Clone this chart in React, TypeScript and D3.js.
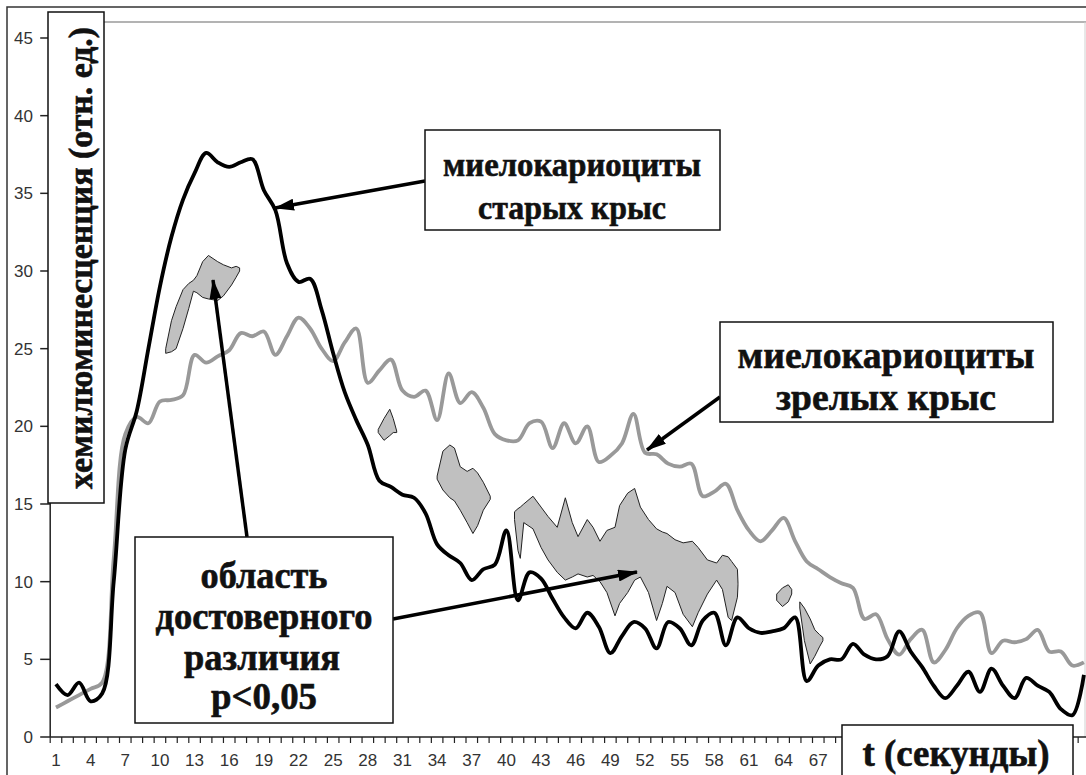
import React from 'react';
import * as d3 from 'd3';

// Хемилюминесценция миелокариоцитов: старые vs зрелые крысы
const oldRats = [
  3.4, 2.7, 3.5, 2.3, 2.8, 10.0, 18.5, 21.0, 25.0, 29.0,
  32.2, 34.6, 36.3, 37.6, 37.0, 36.7, 37.0, 37.2, 35.2, 33.9,
  30.5, 29.3, 29.5, 27.5, 24.7, 22.2, 20.4, 18.8, 16.5, 16.1,
  15.6, 15.4, 14.4, 12.4, 11.7, 11.2, 10.1, 10.8, 11.1, 13.3,
  8.8, 10.6, 10.2, 8.9, 7.7, 7.0, 8.0, 7.1, 5.4, 6.5,
  7.4, 7.0, 5.7, 7.4, 7.0, 5.9, 7.5, 8.0, 5.9, 7.7,
  7.0, 6.7, 6.8, 7.0, 7.7, 3.6, 4.6, 5.0, 5.0, 6.0,
  5.3, 5.0, 5.2, 6.8, 5.5, 4.5, 3.3, 2.5, 3.3, 4.2,
  2.9, 4.4, 3.3, 2.5, 3.8, 3.3, 2.9, 1.8, 1.4, 4.0,
];

const matureRats = [
  1.9, 2.3, 2.7, 3.1, 3.5, 11.5, 19.5, 20.6, 20.2, 21.6,
  21.7, 22.0, 24.6, 24.1, 24.5, 24.9, 26.0, 25.8, 26.1, 24.6,
  25.8, 27.0, 26.3, 25.0, 24.2, 25.4, 26.3, 22.8, 23.6, 24.3,
  22.3, 21.9, 22.3, 20.4, 23.4, 21.5, 22.2, 21.2, 19.5, 19.1,
  19.1, 20.2, 20.3, 18.6, 20.2, 18.9, 20.0, 17.7, 18.1, 18.9,
  20.8, 18.3, 18.2, 17.6, 17.4, 17.6, 15.5, 15.8, 16.3, 14.6,
  13.3, 12.6, 13.3, 14.1, 12.6, 11.3, 10.8, 10.3, 9.9, 9.6,
  7.6, 7.9, 6.3, 5.3, 6.3, 6.9, 4.8, 5.6, 7.0, 7.8,
  8.0, 5.4, 6.2, 6.1, 6.3, 6.9, 5.5, 5.5, 4.6, 4.8,
];

// Области достоверного различия: [t, верхняя граница, нижняя граница]
const zone1: [number, number, number][] = [
  [10.5, 25.0, 24.7], [11.0, 26.8, 24.8], [11.4, 27.7, 25.0], [12.0, 28.8, 26.3],
  [12.5, 29.2, 27.6], [12.9, 29.4, 28.7], [13.2, 29.7, 28.6], [13.7, 30.6, 28.3],
  [14.2, 31.0, 28.2], [15.0, 30.6, 28.1], [15.5, 30.4, 28.4], [16.2, 30.2, 29.1],
  [16.6, 30.3, 29.6], [16.9, 30.2, 30.0],
];
const zone2: [number, number, number][] = [
  [28.9, 19.8, 19.6], [29.4, 20.5, 19.1], [29.9, 21.1, 19.4], [30.2, 20.5, 19.6], [30.5, 19.7, 19.6],
];
const zone3: [number, number, number][] = [
  [34.0, 16.8, 16.6], [34.5, 18.4, 15.9], [35.1, 18.8, 15.4], [35.5, 18.6, 15.2],
  [36.0, 17.4, 14.6], [36.6, 17.1, 13.8], [37.1, 17.3, 13.1], [37.5, 17.0, 13.6],
  [38.0, 16.4, 14.6], [38.6, 15.5, 15.3],
];
const zone4: [number, number, number][] = [
  [40.7, 14.5, 14.0], [41.0, 14.7, 12.0], [41.2, 14.8, 11.5], [41.5, 15.0, 13.8],
  [42.3, 15.5, 13.4], [43.0, 14.8, 12.2], [43.6, 14.2, 11.4], [44.4, 13.5, 10.6],
  [45.1, 15.4, 10.1], [45.7, 13.8, 10.3], [46.2, 12.9, 10.5], [47.0, 14.0, 10.3],
  [47.5, 13.5, 10.4], [48.1, 12.6, 10.0], [48.7, 13.3, 9.3], [49.4, 13.5, 7.8],
  [49.8, 14.9, 8.6], [50.5, 15.7, 9.3], [51.1, 16.0, 10.1], [51.6, 14.8, 10.3],
  [52.3, 14.0, 9.3], [53.0, 13.4, 7.5], [53.5, 13.2, 8.6], [53.9, 13.1, 9.7],
  [54.6, 12.7, 9.3], [55.3, 12.5, 7.9], [56.1, 12.6, 7.1], [56.6, 12.2, 8.0],
  [57.4, 11.4, 9.2], [58.2, 11.2, 10.1], [58.7, 11.7, 9.5], [59.2, 11.6, 7.7],
  [59.5, 11.3, 7.5], [60.0, 10.8, 9.0], [60.05, 9.9, 9.8],
];
const zone5: [number, number, number][] = [
  [63.4, 9.2, 8.8], [63.9, 9.6, 8.4], [64.4, 9.8, 8.7], [64.7, 9.5, 9.2],
];
const zone6: [number, number, number][] = [
  [65.4, 8.7, 8.3], [65.8, 8.3, 6.2], [66.3, 7.6, 4.7], [66.7, 6.9, 5.2],
  [67.1, 6.6, 5.8], [67.4, 6.4, 6.2],
];
const zones = [zone1, zone2, zone3, zone4, zone5, zone6];

const yTicks = [0, 5, 10, 15, 20, 25, 30, 35, 40, 45];
const xTickLabels = [1, 4, 7, 10, 13, 16, 19, 22, 25, 28, 31, 34, 37, 40, 43, 46, 49, 52, 55, 58, 61, 64, 67];

const yAxisTitle = 'хемилюминесценция (отн. ед.)';
const xAxisTitle = 't (секунды)';
const oldLabel = ['миелокариоциты', 'старых крыс'];
const matureLabel = ['миелокариоциты', 'зрелых крыс'];
const zoneLabel = ['область', 'достоверного', 'различия', 'p<0,05'];

const W = 1086;
const H = 775;
const plot = { left: 50.2, top: 22, bottom: 737, step: 11.55 };

export default function App() {
  const n = oldRats.length;
  const x = d3.scaleLinear().domain([0.5, n + 0.5]).range([plot.left, plot.left + n * plot.step]);
  const y = d3.scaleLinear().domain([0, 45]).range([plot.bottom, 38]);

  const line = d3
    .line<number>()
    .x((_, i) => x(i + 1))
    .y((d) => y(d))
    .curve(d3.curveCatmullRom.alpha(0.5));

  const area = d3
    .area<[number, number, number]>()
    .x((d) => x(d[0]))
    .y0((d) => y(d[2]))
    .y1((d) => y(d[1]));

  const boundaries = d3.range(0, n + 1).map((k) => k + 0.5);

  const serif = '"Liberation Serif", "Times New Roman", serif';
  const sans = '"Liberation Sans", Arial, sans-serif';

  const textProps = {
    fontFamily: serif,
    fontWeight: 700 as const,
    fill: '#111',
    stroke: '#111',
    strokeWidth: 0.6,
    textAnchor: 'middle' as const,
    lengthAdjust: 'spacingAndGlyphs' as const,
  };

  return (
    <svg
      width={W}
      height={H}
      style={{ position: 'absolute', left: 0, top: 0, background: '#fff' }}
    >
      <defs>
        <marker
          id="head"
          viewBox="0 0 20 12"
          refX="19"
          refY="6"
          markerWidth="20"
          markerHeight="12"
          markerUnits="userSpaceOnUse"
          orient="auto"
        >
          <path d="M0,0 L20,6 L0,12 Z" fill="#000" />
        </marker>
      </defs>

      {/* outer frame */}
      <path d="M7,775 V7 H1086" fill="none" stroke="#333" strokeWidth={1.5} />
      {/* plot area border */}
      <line x1={plot.left} x2={W} y1={plot.top} y2={plot.top} stroke="#9a9a9a" strokeWidth={1.5} />
      <line x1={1085} x2={1085} y1={plot.top} y2={plot.bottom} stroke="#d0d0d0" strokeWidth={1} />

      {/* y axis */}
      <line x1={plot.left} x2={plot.left} y1={plot.top} y2={plot.bottom} stroke="#222" strokeWidth={1.5} />
      {yTicks.map((v) => (
        <g key={`y${v}`}>
          <line x1={plot.left - 10} x2={plot.left} y1={y(v)} y2={y(v)} stroke="#222" strokeWidth={1.5} />
          <text x={33} y={y(v)} dy="0.35em" textAnchor="end" fontFamily={sans} fontSize={17} fill="#333">
            {v}
          </text>
        </g>
      ))}

      {/* x axis */}
      <line x1={plot.left} x2={W} y1={plot.bottom} y2={plot.bottom} stroke="#222" strokeWidth={1.5} />
      {boundaries.map((b) => (
        <line key={`xt${b}`} x1={x(b)} x2={x(b)} y1={plot.bottom} y2={plot.bottom + 6} stroke="#222" strokeWidth={1.2} />
      ))}
      {xTickLabels.map((v) => (
        <text key={`xl${v}`} x={x(v)} y={766} textAnchor="middle" fontFamily={sans} fontSize={17} fill="#333">
          {v}
        </text>
      ))}

      {/* significance zones */}
      {zones.map((z, i) => (
        <path key={`z${i}`} d={area(z) ?? ''} fill="#c0c0c0" stroke="#222" strokeWidth={1} />
      ))}

      {/* series */}
      <path d={line(matureRats) ?? ''} fill="none" stroke="#999" strokeWidth={3.8} strokeLinejoin="round" />
      <path d={line(oldRats) ?? ''} fill="none" stroke="#000" strokeWidth={3.8} strokeLinejoin="round" />

      {/* arrows */}
      <line x1={425} y1={181} x2={275} y2={208} stroke="#000" strokeWidth={3.5} markerEnd="url(#head)" />
      <line x1={720} y1={397} x2={647} y2={450} stroke="#000" strokeWidth={3.5} markerEnd="url(#head)" />
      <line x1={247} y1={537} x2={213} y2={280} stroke="#000" strokeWidth={3.5} markerEnd="url(#head)" />
      <line x1={393} y1={619} x2={637} y2={572} stroke="#000" strokeWidth={3.5} markerEnd="url(#head)" />

      {/* y axis title */}
      <rect x={48} y={12} width={56} height={491} fill="#fff" stroke="#111" strokeWidth={1.5} />
      <text
        {...textProps}
        fontSize={34}
        textLength={462}
        transform="translate(92,258) rotate(-90)"
      >
        {yAxisTitle}
      </text>

      {/* label: old rats */}
      <rect x={425} y={130} width={295} height={100} fill="#fff" stroke="#111" strokeWidth={1.5} />
      <text {...textProps} x={572} y={176} fontSize={34} textLength={258}>{oldLabel[0]}</text>
      <text {...textProps} x={572} y={219} fontSize={34} textLength={188}>{oldLabel[1]}</text>

      {/* label: mature rats */}
      <rect x={720} y={322} width={333} height={100} fill="#fff" stroke="#111" strokeWidth={1.5} />
      <text {...textProps} x={886} y={368} fontSize={38} textLength={297}>{matureLabel[0]}</text>
      <text {...textProps} x={886} y={410} fontSize={38} textLength={220}>{matureLabel[1]}</text>

      {/* label: significance zone */}
      <rect x={135} y={537} width={258} height={186} fill="#fff" stroke="#111" strokeWidth={1.5} />
      <text {...textProps} x={264} y={588} fontSize={37} textLength={127}>{zoneLabel[0]}</text>
      <text {...textProps} x={264} y={629} fontSize={37} textLength={217}>{zoneLabel[1]}</text>
      <text {...textProps} x={262} y={670} fontSize={37} textLength={156}>{zoneLabel[2]}</text>
      <text {...textProps} x={264} y={709} fontSize={37} textLength={106}>{zoneLabel[3]}</text>

      {/* x axis title */}
      <rect x={842} y={725} width={231} height={70} fill="#fff" stroke="#111" strokeWidth={1.5} />
      <text {...textProps} x={956} y={766} fontSize={37} textLength={187}>{xAxisTitle}</text>
    </svg>
  );
}
